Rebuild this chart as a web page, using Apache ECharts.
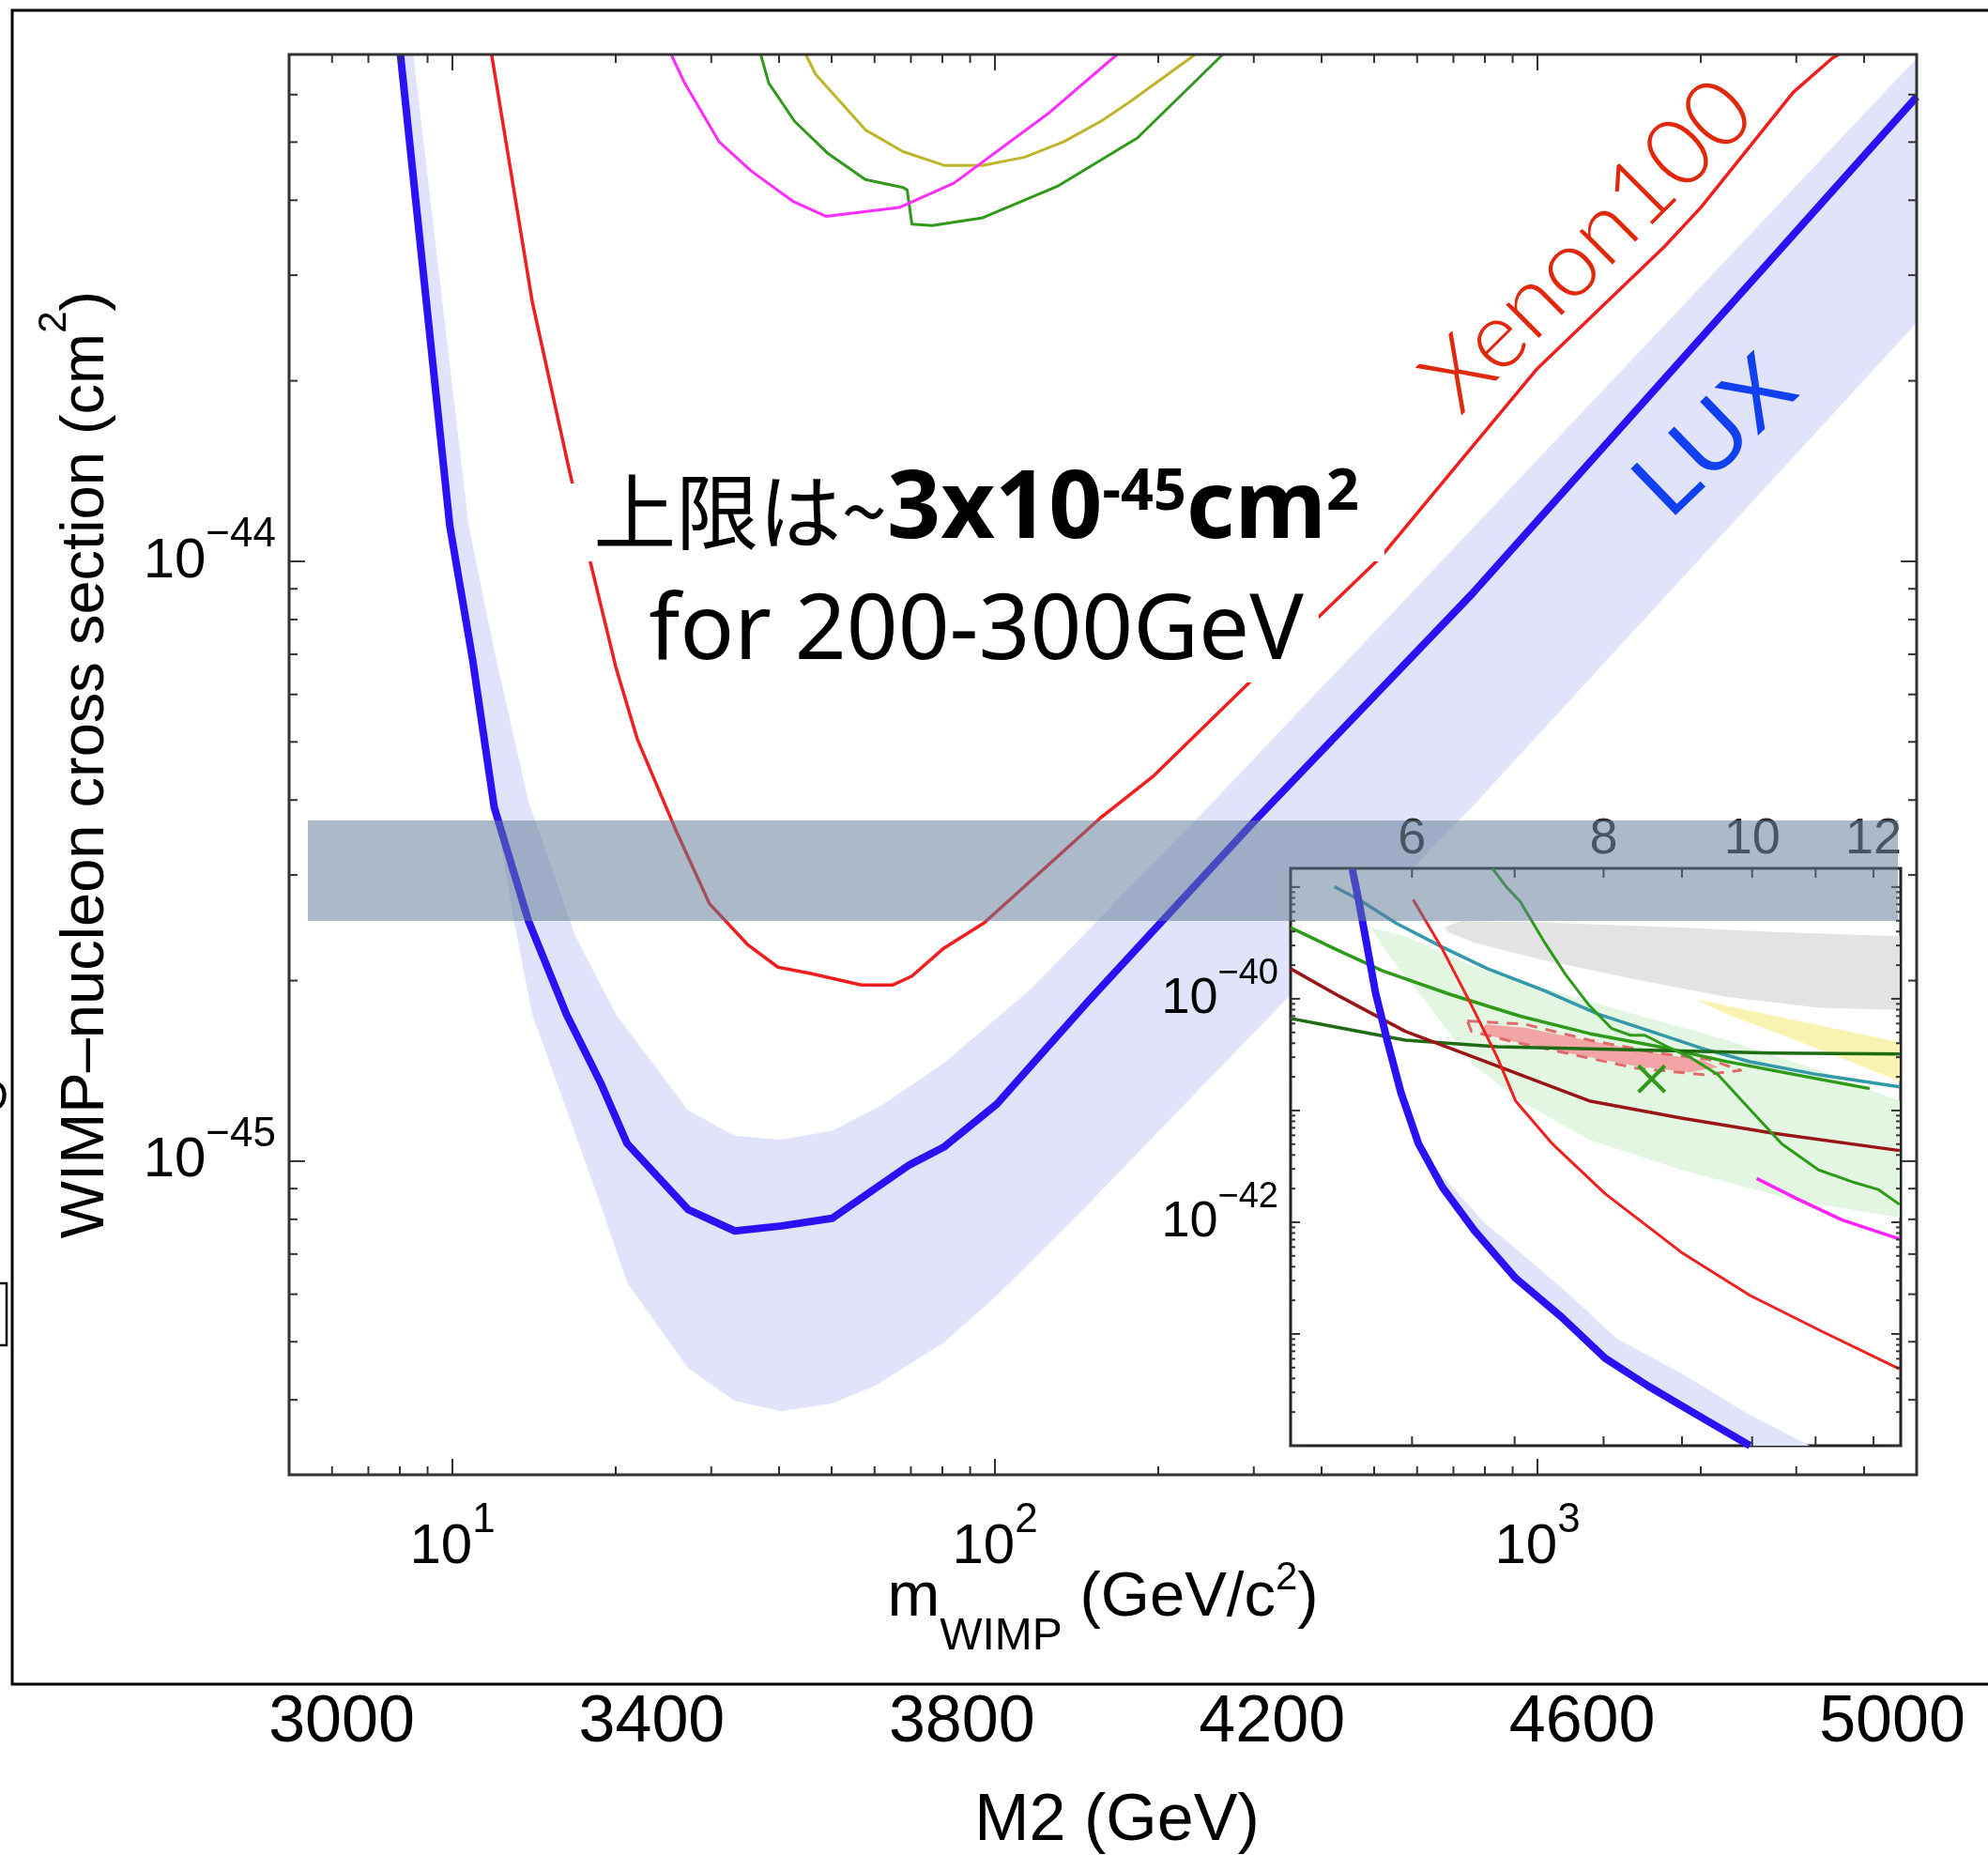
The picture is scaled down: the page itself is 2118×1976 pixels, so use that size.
<!DOCTYPE html>
<html lang="ja">
<head>
<meta charset="utf-8">
<title>WIMP-nucleon cross section limits</title>
<script src="https://cdn.jsdelivr.net/npm/echarts@6/dist/echarts.min.js"></script>
<style>
  html, body { margin: 0; padding: 0; background: #fff; }
  #chart { width: 2118px; height: 1976px; }
</style>
</head>
<body>
<div id="chart"></div>
<script>
// ---------------- axis ranges ----------------
const MASS_RANGE = [5, 5000];            // m_WIMP (GeV/c^2), log
const XSEC_RANGE = [3e-46, 7e-44];       // cross section (cm^2), log
const INSET_MASS_RANGE = [5, 12.5];
const INSET_XSEC_RANGE = [1e-44, 1.47e-39];
const M2_RANGE = [3000, 5000];

// ---------------- ticks ----------------
const MAIN_X_MAJOR_TICKS = [10, 100, 1000];
const MAIN_X_MINOR_TICKS = [6, 7, 8, 9, 20, 30, 40, 50, 60, 70, 80, 90,
  200, 300, 400, 500, 600, 700, 800, 900, 2000, 3000, 4000];
const MAIN_Y_MAJOR_TICKS = [1e-45, 1e-44];
const MAIN_Y_MINOR_TICKS = [4e-46, 5e-46, 6e-46, 7e-46, 8e-46, 9e-46,
  2e-45, 3e-45, 4e-45, 5e-45, 6e-45, 7e-45, 8e-45, 9e-45,
  2e-44, 3e-44, 4e-44, 5e-44, 6e-44];
const INSET_X_TICKS = [6, 7, 8, 9, 10, 11, 12];
const INSET_X_LABELS = [6, 8, 10, 12];
const INSET_Y_MAJOR_TICKS = [1e-44, 1e-43, 1e-42, 1e-41, 1e-40, 1e-39];
const INSET_Y_MINOR_TICKS = [
  2e-44, 3e-44, 4e-44, 5e-44, 6e-44, 7e-44, 8e-44, 9e-44,
  2e-43, 3e-43, 4e-43, 5e-43, 6e-43, 7e-43, 8e-43, 9e-43,
  2e-42, 3e-42, 4e-42, 5e-42, 6e-42, 7e-42, 8e-42, 9e-42,
  2e-41, 3e-41, 4e-41, 5e-41, 6e-41, 7e-41, 8e-41, 9e-41,
  2e-40, 3e-40, 4e-40, 5e-40, 6e-40, 7e-40, 8e-40, 9e-40];
const INSET_Y_LABEL_EXPONENTS = [-40, -42, -44];
const M2_TICKS = [3000, 3400, 3800, 4200, 4600, 5000];

// ---------------- main panel: [mass, cross section] ----------------
const LUX_LIMIT = [[8.02, 7.0e-44], [9.89, 1.146e-44], [10.90, 6.84e-45], [11.94, 3.89e-45],
  [13.80, 2.52e-45], [16.22, 1.758e-45], [18.75, 1.352e-45], [20.99, 1.070e-45],
  [27.18, 8.31e-46], [33.15, 7.65e-46], [40.45, 7.80e-46], [50.13, 8.03e-46],
  [69.58, 9.86e-46], [80.44, 1.055e-45], [100.8, 1.245e-45], [148.4, 1.846e-45],
  [303.4, 3.72e-45], [756.2, 8.81e-45], [5000, 5.95e-44]];
const LUX_BAND_UPPER = [[8.47, 7.0e-44], [10.72, 1.146e-44], [11.94, 7.11e-45], [13.80, 3.985e-45],
  [16.84, 2.377e-45], [20.00, 1.758e-45], [27.18, 1.215e-45], [33.15, 1.102e-45],
  [40.23, 1.086e-45], [50.13, 1.124e-45], [61.82, 1.239e-45], [80.44, 1.455e-45],
  [116.6, 1.939e-45], [235.6, 3.72e-45], [613.3, 9.25e-45], [5000, 6.9e-44]];
const LUX_BAND_LOWER = [[8.02, 7.0e-44], [9.89, 1.146e-44], [10.90, 6.84e-45], [12.07, 3.76e-45],
  [12.94, 2.559e-45], [14.03, 1.758e-45], [18.75, 8.47e-46], [20.99, 6.27e-46],
  [27.18, 4.52e-46], [33.15, 3.985e-46], [40.23, 3.83e-46], [50.13, 3.946e-46],
  [60.19, 4.224e-46], [80.44, 4.984e-46], [100.8, 5.97e-46], [148.4, 8.47e-46],
  [756.2, 3.889e-45], [5000, 2.5e-44]];
const XENON100_LIMIT = [[11.81, 7.0e-44], [14.03, 2.712e-44], [16.40, 1.427e-44], [17.97, 9.95e-45],
  [20.00, 6.675e-45], [21.91, 5.058e-45], [25.75, 3.581e-45], [29.77, 2.687e-45],
  [34.98, 2.298e-45], [39.80, 2.106e-45], [45.76, 2.055e-45], [56.74, 1.967e-45],
  [64.88, 1.967e-45], [70.33, 2.035e-45], [80.44, 2.264e-45], [95.54, 2.497e-45],
  [155.8, 3.722e-45], [196.3, 4.392e-45], [295.3, 6.297e-45], [390.5, 7.994e-45],
  [513.5, 1.015e-44], [701.5, 1.427e-44], [1000, 2.097e-44], [1712, 3.344e-44],
  [2000, 3.889e-44], [2961, 6.053e-44], [3498, 6.906e-44], [3593, 7.0e-44]];
const MAGENTA_LIMIT = [[25.3, 7.0e-44], [26.8, 6.27e-44], [31.0, 5.01e-44], [35.5, 4.48e-44],
  [42.5, 3.98e-44], [48.8, 3.76e-44], [66.6, 3.89e-44], [84.0, 4.27e-44],
  [126, 5.60e-44], [168, 7.0e-44]];
const GREEN_LIMIT = [[37.0, 7.0e-44], [38.3, 6.27e-44], [42.7, 5.42e-44], [49.3, 4.78e-44],
  [57.7, 4.33e-44], [67.7, 4.2e-44], [68.9, 4.16e-44], [70.3, 3.65e-44], [76.6, 3.63e-44],
  [95, 3.74e-44], [131, 4.23e-44], [183, 5.08e-44], [263, 7.0e-44]];
const OLIVE_LIMIT = [[44.8, 7.0e-44], [46.7, 6.49e-44], [57.7, 5.24e-44], [67.7, 4.82e-44],
  [80.9, 4.57e-44], [95, 4.57e-44], [113.5, 4.72e-44], [134, 5.01e-44], [157, 5.42e-44],
  [177, 5.83e-44], [234, 7.0e-44]];

// ---------------- low-mass inset: [mass, cross section] ----------------
const INSET_LUX = [[5.486, 1.44e-39], [5.54, 7.40e-40], [5.60, 3.31e-40], [5.68, 1.135e-40],
  [5.78, 4.26e-41], [5.90, 1.46e-41], [6.06, 5.01e-42], [6.28, 2.06e-42], [6.59, 8.43e-43],
  [7.01, 3.16e-43], [7.51, 1.42e-43], [8.02, 6.07e-44], [8.56, 3.40e-44], [9.30, 1.74e-44],
  [9.97, 1.0e-44]];
const INSET_LUX_BAND_UPPER = [[6.06, 5.01e-42], [6.23, 2.94e-42], [6.68, 1.007e-42], [7.11, 4.93e-43],
  [7.61, 2.21e-43], [8.16, 9.08e-44], [8.99, 4.45e-44], [9.90, 1.99e-44], [10.9, 1.0e-44]];
const INSET_LUX_BAND_LOWER = [[6.06, 5.01e-42], [6.28, 2.06e-42], [6.59, 8.43e-43], [7.01, 3.16e-43],
  [7.51, 1.42e-43], [8.02, 6.07e-44], [8.56, 3.40e-44], [9.30, 1.74e-44], [9.97, 1.0e-44]];
const INSET_TEAL = [[5.34, 1.009e-39], [5.54, 7.73e-40], [5.86, 4.74e-40], [6.28, 2.90e-40],
  [6.72, 1.86e-40], [7.31, 1.19e-40], [7.94, 7.27e-41], [8.68, 4.87e-41], [9.30, 3.56e-41],
  [9.97, 2.73e-41], [11.05, 2.09e-41], [12.48, 1.63e-41]];
const INSET_GREEN = [[5.00, 4.34e-40], [5.35, 2.78e-40], [5.74, 1.78e-40], [6.36, 1.09e-40],
  [7.06, 6.98e-41], [7.83, 4.89e-41], [8.68, 3.74e-41], [9.63, 2.74e-41], [10.68, 2.09e-41],
  [11.93, 1.57e-41]];
const INSET_DARK_GREEN = [[5.00, 6.67e-41], [5.35, 5.58e-41], [5.94, 4.27e-41], [6.82, 3.73e-41],
  [7.83, 3.57e-41], [8.99, 3.42e-41], [10.31, 3.27e-41], [12.48, 3.21e-41]];
const INSET_MAROON = [[5.00, 1.86e-40], [5.39, 1.04e-40], [5.94, 5.11e-41], [6.59, 2.99e-41],
  [7.06, 2.09e-41], [7.83, 1.22e-41], [8.99, 8.56e-42], [10.31, 6.27e-42], [12.48, 4.38e-42]];
const INSET_RED = [[6.01, 7.73e-40], [6.28, 2.78e-40], [6.54, 9.53e-41], [6.82, 2.99e-41],
  [7.01, 1.22e-41], [7.41, 5.01e-42], [8.02, 1.80e-42], [8.99, 5.39e-43], [9.97, 2.21e-43],
  [11.05, 1.09e-43], [12.48, 4.86e-44]];
const INSET_STEEP_GREEN = [[6.77, 1.47e-39], [6.91, 1.01e-39], [7.06, 7.40e-40], [7.31, 3.31e-40],
  [7.56, 1.63e-40], [7.83, 8.71e-41], [8.10, 5.41e-41], [8.33, 4.72e-41], [8.51, 4.72e-41],
  [8.80, 3.74e-41], [9.11, 2.99e-41], [9.50, 2.09e-41], [9.97, 1.02e-41], [10.46, 5.01e-42],
  [11.05, 2.94e-42], [11.68, 2.25e-42], [12.09, 1.96e-42], [12.48, 1.44e-42]];
const INSET_MAGENTA = [[10.07, 2.46e-42], [10.68, 1.64e-42], [11.44, 1.05e-42], [12.48, 7.06e-43]];
const INSET_GRAY_REGION = [[6.30, 4.34e-40], [6.45, 4.97e-40], [7.31, 4.83e-40], [8.99, 4.34e-40],
  [10.31, 3.97e-40], [12.48, 3.63e-40], [12.48, 7.96e-41], [11.05, 8.32e-41], [9.63, 1.04e-40],
  [8.39, 1.49e-40], [7.31, 2.22e-40], [6.59, 3.17e-40], [6.33, 3.97e-40]];
const INSET_YELLOW_REGION = [[9.18, 9.95e-41], [12.48, 4.08e-41], [12.48, 1.83e-41],
  [10.68, 4.27e-41], [9.63, 7.27e-41]];
const INSET_GREEN_REGION = [[5.64, 4.34e-40], [5.94, 3.63e-40], [6.59, 1.94e-40], [7.31, 1.24e-40],
  [8.39, 7.27e-41], [9.63, 4.26e-41], [11.05, 2.29e-41], [12.48, 1.22e-41], [12.48, 1.10e-42],
  [10.68, 1.57e-42], [8.99, 2.94e-42], [7.83, 5.48e-42], [7.06, 1.22e-41], [6.59, 2.50e-41],
  [6.15, 8.71e-41], [5.78, 2.55e-40]];
const INSET_SALMON_CONTOUR = [[6.52, 6.34e-41], [7.11, 5.92e-41], [7.83, 4.27e-41], [8.68, 3.27e-41],
  [9.37, 2.86e-41], [9.83, 2.29e-41], [9.30, 2.09e-41], [8.39, 2.40e-41], [7.56, 3.27e-41],
  [7.01, 4.08e-41], [6.56, 5.11e-41], [6.52, 6.34e-41]];
const INSET_SALMON_REGION = [[6.70, 5.9e-41], [7.11, 5.5e-41], [7.83, 4.2e-41], [8.68, 3.25e-41],
  [9.30, 2.8e-41], [9.50, 2.45e-41], [9.10, 2.2e-41], [8.39, 2.5e-41], [7.56, 3.3e-41],
  [7.01, 4.1e-41], [6.65, 4.9e-41]];
const INSET_BEST_FIT = [[8.60, 1.92e-41]];

// ---------------- drawing helpers ----------------
const FONT = "'Liberation Sans', Arial, Helvetica, sans-serif";
const JP = "'Noto Sans CJK JP', 'Noto Sans', sans-serif";
const LATIN = "'Noto Sans', 'Noto Sans CJK JP', sans-serif";
const AXIS_COLOR = '#333';

function expLabel(v, keep) {
  if (!(v > 0)) return '';
  const l = Math.log10(v);
  if (!isFinite(l)) return '';
  const e = Math.round(l);
  if (Math.abs(l - e) > 1e-6) return '';
  if (keep && keep.indexOf(e) < 0) return '';
  return '{b|10}{s|' + (e < 0 ? '\u2212' + (-e) : String(e)) + '}';
}

function lineSeries(data, color, width, xi, z, dashed) {
  return {
    type: 'line', data: data, xAxisIndex: xi, yAxisIndex: xi, z: z,
    showSymbol: false, symbol: 'none', silent: true, clip: true,
    lineStyle: { color: color, width: width, type: dashed ? [12, 9] : 'solid', join: 'round' }
  };
}

function areaSeries(points, color, xi, z) {
  return {
    type: 'custom', data: points, xAxisIndex: xi, yAxisIndex: xi, z: z, silent: true,
    renderItem: function (params, api) {
      if (params.dataIndex !== 0) return null;
      return { type: 'polygon', shape: { points: points.map(function (p) { return api.coord(p); }) },
               style: { fill: color } };
    }
  };
}

// ticks drawn on both opposite edges of a panel
function tickSeries(values, dir, len, xi, xr, yr, z) {
  return {
    type: 'custom', xAxisIndex: xi, yAxisIndex: xi, z: z, silent: true,
    data: values.map(function (v) { return dir === 'x' ? [v, yr[0]] : [xr[0], v]; }),
    renderItem: function (params, api) {
      const st = { stroke: AXIS_COLOR, lineWidth: 2 };
      if (dir === 'x') {
        const v = api.value(0);
        const a = api.coord([v, yr[0]]), b = api.coord([v, yr[1]]);
        return { type: 'group', children: [
          { type: 'line', shape: { x1: a[0], y1: a[1], x2: a[0], y2: a[1] - len }, style: st },
          { type: 'line', shape: { x1: b[0], y1: b[1], x2: b[0], y2: b[1] + len }, style: st }] };
      }
      const v = api.value(1);
      const a = api.coord([xr[0], v]), b = api.coord([xr[1], v]);
      return { type: 'group', children: [
        { type: 'line', shape: { x1: a[0], y1: a[1], x2: a[0] + len, y2: a[1] }, style: st },
        { type: 'line', shape: { x1: b[0], y1: b[1], x2: b[0] - len, y2: b[1] }, style: st }] };
    }
  };
}

const chart = echarts.init(document.getElementById('chart'), null, { renderer: 'canvas', width: 2118, height: 1976 });

const option = {
  animation: false,
  backgroundColor: '#fff',
  textStyle: { fontFamily: FONT },
  grid: [
    { left: 308, top: 58, width: 1734, height: 1513, show: true, backgroundColor: 'transparent',
      borderColor: AXIS_COLOR, borderWidth: 3, z: 3, outerBoundsMode: 'none', containLabel: false },
    { left: 1375, top: 925, width: 650, height: 615, show: true, backgroundColor: '#fff',
      borderColor: '#222', borderWidth: 3, z: 4, outerBoundsMode: 'none', containLabel: false },
    { left: 364, top: 1790, width: 1652, height: 5, show: false, outerBoundsMode: 'none', containLabel: false }
  ],
  xAxis: [
    { gridIndex: 0, type: 'log', logBase: 10, min: MASS_RANGE[0], max: MASS_RANGE[1],
      axisLine: { show: false }, axisTick: { show: false }, splitLine: { show: false },
      axisLabel: { margin: 27, color: '#000', formatter: function (v) { return expLabel(v); },
        rich: { b: { fontSize: 60, lineHeight: 100, fontFamily: FONT, color: '#000' },
                s: { fontSize: 44, lineHeight: 40, verticalAlign: 'top', fontFamily: FONT, color: '#000' } } },
      name: '{m|m}{sub|WIMP}{m| (GeV/c}{sup|2}{m|)}', nameLocation: 'middle', nameGap: 67,
      nameMoveOverlap: false,
      nameTextStyle: { color: '#000', rich: {
        m: { fontSize: 67, lineHeight: 130, fontFamily: FONT, color: '#000' },
        sub: { fontSize: 48, lineHeight: 48, verticalAlign: 'bottom', fontFamily: FONT, color: '#000' },
        sup: { fontSize: 42, height: 86, lineHeight: 86, verticalAlign: 'top', fontFamily: FONT, color: '#000' } } } },
    { gridIndex: 1, type: 'log', logBase: 10, min: INSET_MASS_RANGE[0], max: INSET_MASS_RANGE[1],
      axisLine: { show: false }, axisTick: { show: false }, splitLine: { show: false },
      axisLabel: { show: false } },
    { gridIndex: 2, type: 'value', min: M2_RANGE[0], max: M2_RANGE[1],
      axisLine: { show: false }, axisTick: { show: false }, splitLine: { show: false },
      axisLabel: { customValues: M2_TICKS, fontSize: 70, lineHeight: 70, margin: 6, color: '#000', fontFamily: FONT,
        formatter: function (v) { return String(v); } },
      name: 'M2 (GeV)', nameLocation: 'middle', nameGap: 111, nameMoveOverlap: false,
      nameTextStyle: { fontSize: 70, lineHeight: 70, color: '#000', fontFamily: FONT } }
  ],
  yAxis: [
    { gridIndex: 0, type: 'log', logBase: 10, min: XSEC_RANGE[0], max: XSEC_RANGE[1],
      axisLine: { show: false }, axisTick: { show: false }, splitLine: { show: false },
      axisLabel: { margin: 14, color: '#000', formatter: function (v) { return expLabel(v); },
        rich: { b: { fontSize: 60, lineHeight: 100, fontFamily: FONT, color: '#000' },
                s: { fontSize: 44, lineHeight: 40, verticalAlign: 'top', fontFamily: FONT, color: '#000' } } },
      name: '{t|WIMP\u2013nucleon cross section (cm}{sup|2}{t|)}', nameLocation: 'middle', nameGap: 161,
      nameRotate: 90, nameMoveOverlap: false,
      nameTextStyle: { color: '#000', rich: {
        t: { fontSize: 65, lineHeight: 110, fontFamily: FONT, color: '#000' },
        sup: { fontSize: 42, lineHeight: 40, verticalAlign: 'top', fontFamily: FONT, color: '#000' } } } },
    { gridIndex: 1, type: 'log', logBase: 10, min: INSET_XSEC_RANGE[0], max: INSET_XSEC_RANGE[1], z: 8,
      axisLine: { show: false }, axisTick: { show: false }, splitLine: { show: false },
      axisLabel: { margin: 13, color: '#000', showMinLabel: true,
        formatter: function (v) { return expLabel(v, INSET_Y_LABEL_EXPONENTS); },
        rich: { b: { fontSize: 54, lineHeight: 90, fontFamily: FONT, color: '#000' },
                s: { fontSize: 38, lineHeight: 36, verticalAlign: 'top', fontFamily: FONT, color: '#000' } } } },
    { gridIndex: 2, type: 'value', show: false, min: 0, max: 1 }
  ],
  series: [
    // main panel
    areaSeries(LUX_BAND_UPPER.concat(LUX_BAND_LOWER.slice().reverse()), '#e1e3fa', 0, 1),
    lineSeries(OLIVE_LIMIT, '#bdb52a', 3, 0, 2),
    lineSeries(GREEN_LIMIT, '#2f9a1a', 3, 0, 2),
    lineSeries(MAGENTA_LIMIT, '#ff2bff', 3, 0, 2),
    lineSeries(XENON100_LIMIT, '#f01e1e', 3.5, 0, 2),
    lineSeries(LUX_LIMIT, '#2a12f5', 8, 0, 2),
    tickSeries(MAIN_X_MAJOR_TICKS, 'x', 17, 0, MASS_RANGE, XSEC_RANGE, 3),
    tickSeries(MAIN_X_MINOR_TICKS, 'x', 9, 0, MASS_RANGE, XSEC_RANGE, 3),
    tickSeries(MAIN_Y_MAJOR_TICKS, 'y', 17, 0, MASS_RANGE, XSEC_RANGE, 3),
    tickSeries(MAIN_Y_MINOR_TICKS, 'y', 9, 0, MASS_RANGE, XSEC_RANGE, 3),

    // inset panel
    areaSeries(INSET_GREEN_REGION, '#e2f6e2', 1, 5),
    areaSeries(INSET_GRAY_REGION, '#e3e3e3', 1, 5),
    areaSeries(INSET_YELLOW_REGION, '#f8f3b0', 1, 5),
    areaSeries(INSET_SALMON_REGION, '#f2a4a4', 1, 5),
    areaSeries(INSET_LUX_BAND_UPPER.concat(INSET_LUX_BAND_LOWER.slice().reverse()), '#e1e3fa', 1, 5),
    lineSeries(INSET_SALMON_CONTOUR, '#e06a6a', 3, 1, 6, true),
    lineSeries(INSET_TEAL, '#3399aa', 3.5, 1, 6),
    lineSeries(INSET_GREEN, '#2f9a1a', 3.5, 1, 6),
    lineSeries(INSET_DARK_GREEN, '#1d6b12', 3.5, 1, 6),
    lineSeries(INSET_MAROON, '#9a1515', 3.5, 1, 6),
    lineSeries(INSET_RED, '#ee2020', 3, 1, 6),
    lineSeries(INSET_STEEP_GREEN, '#2f9a1a', 3, 1, 6),
    lineSeries(INSET_MAGENTA, '#ff22ff', 3.5, 1, 6),
    lineSeries(INSET_LUX, '#2a12f5', 8, 1, 7),
    { type: 'custom', data: INSET_BEST_FIT, xAxisIndex: 1, yAxisIndex: 1, z: 7, silent: true,
      renderItem: function (params, api) {
        const c = api.coord([api.value(0), api.value(1)]);
        const r = 14, st = { stroke: '#2f9a1a', lineWidth: 4 };
        return { type: 'group', children: [
          { type: 'line', shape: { x1: c[0] - r, y1: c[1] - r, x2: c[0] + r, y2: c[1] + r }, style: st },
          { type: 'line', shape: { x1: c[0] - r, y1: c[1] + r, x2: c[0] + r, y2: c[1] - r }, style: st }] };
      } },
    tickSeries(INSET_X_TICKS, 'x', 10, 1, INSET_MASS_RANGE, INSET_XSEC_RANGE, 8),
    tickSeries(INSET_Y_MAJOR_TICKS, 'y', 10, 1, INSET_MASS_RANGE, INSET_XSEC_RANGE, 8),
    tickSeries(INSET_Y_MINOR_TICKS, 'y', 5, 1, INSET_MASS_RANGE, INSET_XSEC_RANGE, 8),
    { type: 'custom', data: INSET_X_LABELS.map(function (v) { return [v, INSET_XSEC_RANGE[1]]; }),
      xAxisIndex: 1, yAxisIndex: 1, z: 8, silent: true,
      renderItem: function (params, api) {
        const c = api.coord([api.value(0), INSET_XSEC_RANGE[1]]);
        return { type: 'text', x: c[0], y: c[1] - 31,
          style: { text: String(api.value(0)), align: 'center', textAlign: 'center',
                   verticalAlign: 'middle', textVerticalAlign: 'middle',
                   fontSize: 54, fontFamily: FONT, fill: '#2b2b2b' } };
      } }
  ],
  graphic: [
    // page frame
    { type: 'rect', z: 0, silent: true, shape: { x: 13, y: 11, width: 2200, height: 1783 },
      style: { fill: 'none', stroke: '#000', lineWidth: 3 } },
    { type: 'rect', z: 0, silent: true, shape: { x: -20, y: 1367, width: 27, height: 66 },
      style: { fill: 'none', stroke: '#000', lineWidth: 2.5 } },
    { type: 'text', z: 0, silent: true, x: 9, y: 1170,
      style: { text: 'D', align: 'right', textAlign: 'right', verticalAlign: 'middle', textVerticalAlign: 'middle',
               fontSize: 46, fontFamily: FONT, fill: '#000' } },
    // annotation boxes
    { type: 'rect', z: 8, silent: true, shape: { x: 605, y: 515, width: 870, height: 83 }, style: { fill: '#fff' } },
    { type: 'rect', z: 8, silent: true, shape: { x: 680, y: 655, width: 725, height: 72 }, style: { fill: '#fff' } },
    { type: 'text', z: 9, silent: true, x: 1040, y: 545,
      style: { text: '{j|上限は~}{b|3x10}{s|-45}{b|cm}{s|2}', align: 'center', textAlign: 'center',
               verticalAlign: 'middle', textVerticalAlign: 'middle', fill: '#000',
               rich: { j: { fontFamily: JP, fontSize: 88, lineHeight: 100, color: '#000' },
                       b: { fontFamily: LATIN, fontWeight: 'bold', fontSize: 100, lineHeight: 100, color: '#000' },
                       s: { fontFamily: LATIN, fontWeight: 'bold', fontSize: 61, lineHeight: 60, verticalAlign: 'top', color: '#000' } } } },
    { type: 'text', z: 9, silent: true, x: 1040, y: 675,
      style: { text: 'for 200-300GeV', align: 'center', textAlign: 'center',
               verticalAlign: 'middle', textVerticalAlign: 'middle',
               fontFamily: LATIN, fontSize: 96, fill: '#000' } },
    // curve names
    { type: 'text', z: 9, silent: true, x: 1692, y: 262, rotation: Math.PI / 4,
      style: { text: 'Xenon100', align: 'center', textAlign: 'center', verticalAlign: 'middle', textVerticalAlign: 'middle',
               fontFamily: "'Lato', 'Liberation Sans', sans-serif", fontWeight: 300, fontSize: 100, fill: '#e0280c' } },
    { type: 'text', z: 9, silent: true, x: 1830, y: 467, rotation: 44 * Math.PI / 180,
      style: { text: 'LUX', align: 'center', textAlign: 'center', verticalAlign: 'middle', textVerticalAlign: 'middle',
               fontFamily: FONT, fontSize: 100, fill: '#1040f0' } },
    // highlighted cross-section range
    { type: 'rect', z: 50, silent: true, shape: { x: 328, y: 874, width: 1694, height: 107 },
      style: { fill: 'rgba(98,123,151,0.53)' } }
  ]
};

chart.setOption(option);
</script>
</body>
</html>
